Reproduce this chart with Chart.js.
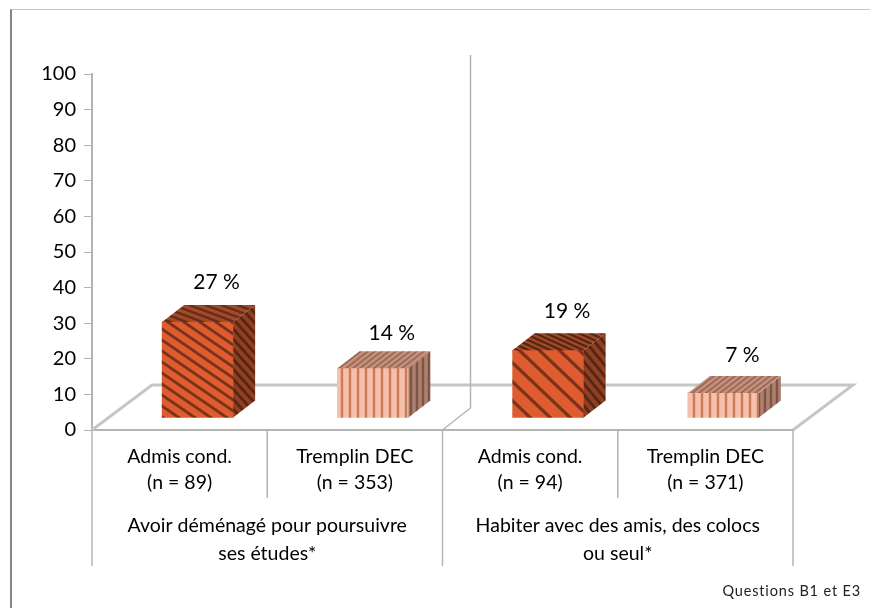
<!DOCTYPE html>
<html>
<head>
<meta charset="utf-8">
<title>Chart</title>
<script src="https://cdn.jsdelivr.net/npm/chart.js@4"></script>
<style>
  html, body { margin: 0; padding: 0; background: #fff; }
  #frame { position: absolute; left: 10px; top: 9px; width: 860px; height: 599px;
           border-left: 2px solid #858585; border-top: 1px solid #c4c4c4; box-sizing: border-box; }
  #chart { position: absolute; left: 0; top: 0; }
  #note { position: absolute; right: 9px; top: 582px; font: 14.5px Lato, sans-serif;
          letter-spacing: 0.85px; color: #222; }
</style>
</head>
<body>
<div id="frame"></div>
<canvas id="chart" width="870" height="608"></canvas>
<div id="note">Questions B1 et E3</div>
<script>
const categories = [
  ["Admis cond.", "(n = 89)"],
  ["Tremplin DEC", "(n = 353)"],
  ["Admis cond.", "(n = 94)"],
  ["Tremplin DEC", "(n = 371)"],
];
const groups = [
  ["Avoir déménagé pour poursuivre", "ses études*"],
  ["Habiter avec des amis, des colocs", "ou seul*"],
];
const values = [27, 14, 19, 7];
const yTicks = [0, 10, 20, 30, 40, 50, 60, 70, 80, 90, 100];

const AXIS_GREY = "#b4b4b4";
const FONT = "Lato, sans-serif";

// 3D look of the bars, in pixels
const shiftX = 18;
const shiftY = -12;
const depthX = 22;
const depthY = -17;
const labelLift = [23, 18, 22, 21];

function tile(w, h, base, stripe, lineWidth, kind) {
  const c = document.createElement("canvas");
  c.width = w;
  c.height = h;
  const g = c.getContext("2d");
  g.fillStyle = base;
  g.fillRect(0, 0, w, h);
  g.strokeStyle = stripe;
  g.lineWidth = lineWidth;
  if (kind === "vertical") {
    g.beginPath();
    g.moveTo(w / 2, 0);
    g.lineTo(w / 2, h);
    g.stroke();
  } else {
    for (let i = -1; i <= 1; i++) {
      g.beginPath();
      g.moveTo(-w, i * h - h);
      g.lineTo(2 * w, i * h + 2 * h);
      g.stroke();
    }
  }
  return g.createPattern(c, "repeat");
}

const ctx = document.getElementById("chart").getContext("2d");

const darkFine = {
  front: tile(16, 11, "#df5c30", "#7a3319", 2.8),
  side: tile(9, 10, "#8f4023", "#582512", 2.8),
  top: tile(16, 6, "#a04a2a", "#642c17", 2.2),
};
const paleOne = {
  front: tile(8, 8, "#f6c1ab", "#cd7a5a", 2.4, "vertical"),
  side: tile(6, 6, "#aa8070", "#805343", 2.4, "vertical"),
  top: tile(7, 7, "#c2917e", "#96604c", 2.4, "vertical"),
};
const darkWide = {
  front: tile(20, 19, "#df5c30", "#7a3319", 3.2),
  side: tile(9, 11, "#8f4023", "#582512", 2.8),
  top: tile(11, 5, "#a04a2a", "#582512", 2.2),
};
const faces = [darkFine, paleOne, darkWide, paleOne];

// skew the stripes of the pale top face so they run along the depth
paleOne.top.setTransform(new DOMMatrix([1, 0, -depthX / -depthY, 1, 0, 0]));

const bars3d = {
  id: "bars3d",
  beforeDatasetsDraw(chart) {
    const { ctx, chartArea: a } = chart;
    const backY = a.bottom + depthY * 2.65;
    const backDx = 60;
    ctx.save();
    ctx.strokeStyle = "#c6c6c6";
    ctx.lineWidth = 3;
    ctx.beginPath();
    ctx.moveTo(a.left, a.bottom);
    ctx.lineTo(a.left + backDx, backY);
    ctx.lineTo(a.right + backDx, backY);
    ctx.lineTo(a.right, a.bottom);
    ctx.stroke();
    // wall between the two groups
    const mid = (a.left + a.right) / 2;
    ctx.strokeStyle = AXIS_GREY;
    ctx.lineWidth = 1.5;
    ctx.beginPath();
    ctx.moveTo(mid, a.bottom);
    ctx.lineTo(mid + 28, a.bottom - 22);
    ctx.lineTo(mid + 28, a.top - 19);
    ctx.stroke();
    // dividers under the axis
    const step = (a.right - a.left) / 4;
    [0, 1, 2, 3, 4].forEach((i) => {
      const long = i % 2 === 0;
      ctx.beginPath();
      ctx.moveTo(a.left + i * step, a.bottom);
      ctx.lineTo(a.left + i * step, a.bottom + (long ? 136 : 68));
      ctx.stroke();
    });
    ctx.restore();
  },
  beforeDatasetDraw(chart) {
    chart.ctx.save();
    chart.ctx.translate(shiftX, shiftY);
  },
  afterDatasetDraw(chart, args) {
    const { ctx } = chart;
    ctx.restore();
    args.meta.data.forEach((bar, i) => {
      const left = bar.x - bar.width / 2 + shiftX;
      const right = bar.x + bar.width / 2 + shiftX;
      const top = bar.y + shiftY;
      const bottom = bar.base + shiftY;
      ctx.fillStyle = faces[i].side;
      ctx.beginPath();
      ctx.moveTo(right, top);
      ctx.lineTo(right + depthX, top + depthY);
      ctx.lineTo(right + depthX, bottom + depthY);
      ctx.lineTo(right, bottom);
      ctx.closePath();
      ctx.fill();
      ctx.fillStyle = faces[i].top;
      ctx.beginPath();
      ctx.moveTo(left, top);
      ctx.lineTo(left + depthX, top + depthY);
      ctx.lineTo(right + depthX, top + depthY);
      ctx.lineTo(right, top);
      ctx.closePath();
      ctx.fill();
    });
  },
  afterDatasetsDraw(chart) {
    const { ctx } = chart;
    const meta = chart.getDatasetMeta(0);
    ctx.save();
    ctx.font = "21px " + FONT;
    ctx.fillStyle = "#000";
    ctx.textAlign = "center";
    ctx.textBaseline = "middle";
    meta.data.forEach((bar, i) => {
      ctx.fillText(values[i] + " %", bar.x + shiftX + 19, bar.y + shiftY + depthY - labelLift[i]);
    });
    ctx.restore();
  },
};

new Chart(ctx, {
  type: "bar",
  data: {
    labels: categories,
    datasets: [
      {
        data: values,
        xAxisID: "x",
        backgroundColor: faces.map((f) => f.front),
        barThickness: 71,
      },
    ],
  },
  options: {
    responsive: false,
    animation: false,
    layout: { padding: { top: 74, right: 77, bottom: 42, left: 0 } },
    plugins: { legend: { display: false }, tooltip: { enabled: false } },
    scales: {
      y: {
        min: 0,
        max: 100,
        afterBuildTicks: (scale) => {
          scale.ticks = yTicks.map((v) => ({ value: v }));
        },
        afterFit: (scale) => {
          scale.width = 92;
        },
        border: { color: AXIS_GREY, width: 2 },
        grid: { drawOnChartArea: false, tickLength: 8, color: AXIS_GREY },
        ticks: { color: "#000", padding: 8, font: { family: FONT, size: 20 } },
      },
      x: {
        position: "bottom",
        border: { color: AXIS_GREY, width: 2 },
        grid: { display: false },
        afterFit: (scale) => {
          scale.height = 68;
        },
        ticks: {
          color: "#000",
          padding: 6,
          maxRotation: 0,
          font: { family: FONT, size: 19.5, lineHeight: 1.33 },
        },
      },
      x2: {
        type: "category",
        labels: groups,
        position: "bottom",
        offset: true,
        border: { display: false },
        grid: { display: false },
        afterFit: (scale) => {
          scale.height = 68;
        },
        ticks: {
          color: "#000",
          padding: 6,
          maxRotation: 0,
          font: { family: FONT, size: 19.5, lineHeight: 1.43 },
        },
      },
    },
  },
  plugins: [bars3d],
});
</script>
</body>
</html>
